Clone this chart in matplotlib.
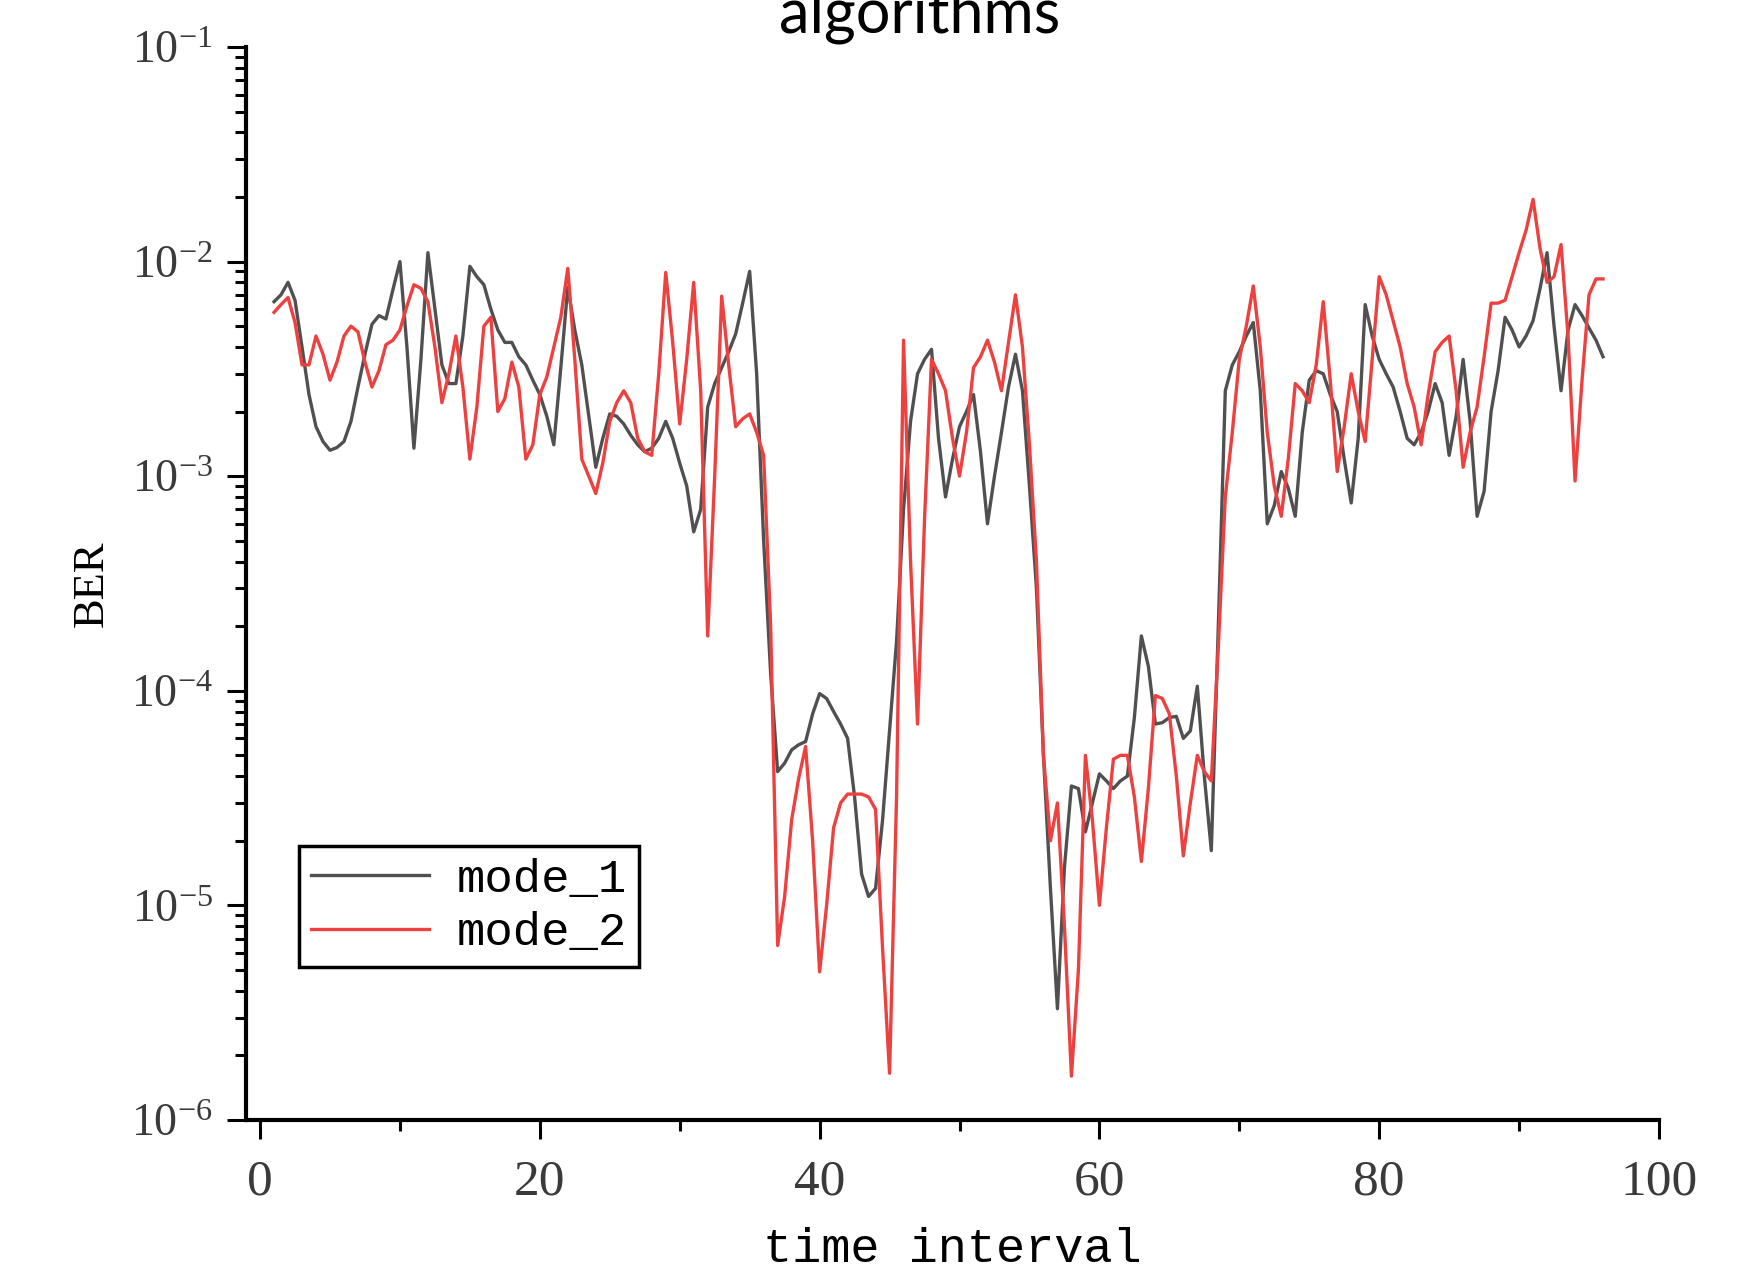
"""
plot.py
BER of the two modes over the time intervals, on a log scale.

Usage:
    python plot.py
"""

import numpy as np
import matplotlib
matplotlib.use("Agg")
import matplotlib.pyplot as plt
from matplotlib.ticker import MultipleLocator, LogLocator, NullFormatter

# time intervals go from 1 to 96 in half steps
t_start, t_stop, t_step = 1.0, 96.0, 0.5

mode_1 = [
    6.5e-3, 7.0e-3, 8.0e-3, 6.6e-3, 4.0e-3, 2.4e-3, 1.7e-3, 1.45e-3, 1.32e-3, 1.36e-3,   # 1.0 - 5.5
    1.45e-3, 1.8e-3, 2.6e-3, 3.7e-3, 5.1e-3, 5.6e-3, 5.4e-3, 7.4e-3, 1.0e-2, 4.0e-3,    # 6.0 - 10.5
    1.35e-3, 3.5e-3, 1.1e-2, 6.0e-3, 3.3e-3, 2.7e-3, 2.7e-3, 4.5e-3, 9.5e-3, 8.5e-3,    # 11.0 - 15.5
    7.8e-3, 6.0e-3, 4.8e-3, 4.2e-3, 4.2e-3, 3.6e-3, 3.3e-3, 2.8e-3, 2.4e-3, 1.9e-3,     # 16.0 - 20.5
    1.4e-3, 3.2e-3, 7.6e-3, 4.8e-3, 3.3e-3, 1.9e-3, 1.1e-3, 1.5e-3, 1.95e-3, 1.9e-3,    # 21.0 - 25.5
    1.75e-3, 1.55e-3, 1.4e-3, 1.3e-3, 1.35e-3, 1.5e-3, 1.8e-3, 1.5e-3, 1.15e-3, 9.0e-4, # 26.0 - 30.5
    5.5e-4, 7.0e-4, 2.1e-3, 2.7e-3, 3.2e-3, 3.8e-3, 4.6e-3, 6.4e-3, 9.0e-3, 3.0e-3,     # 31.0 - 35.5
    5.0e-4, 1.2e-4, 4.2e-5, 4.6e-5, 5.3e-5, 5.6e-5, 5.8e-5, 7.8e-5, 9.7e-5, 9.2e-5,     # 36.0 - 40.5
    8.0e-5, 7.0e-5, 6.0e-5, 3.2e-5, 1.4e-5, 1.1e-5, 1.2e-5, 2.5e-5, 6.5e-5, 1.7e-4,     # 41.0 - 45.5
    7.0e-4, 1.8e-3, 3.0e-3, 3.5e-3, 3.9e-3, 1.5e-3, 8.0e-4, 1.2e-3, 1.7e-3, 2.0e-3,     # 46.0 - 50.5
    2.4e-3, 1.3e-3, 6.0e-4, 1.0e-3, 1.6e-3, 2.6e-3, 3.7e-3, 2.5e-3, 9.0e-4, 3.0e-4,     # 51.0 - 55.5
    5.0e-5, 1.2e-5, 3.3e-6, 1.5e-5, 3.6e-5, 3.5e-5, 2.2e-5, 3.0e-5, 4.1e-5, 3.8e-5,     # 56.0 - 60.5
    3.5e-5, 3.8e-5, 4.0e-5, 7.5e-5, 1.8e-4, 1.3e-4, 7.0e-5, 7.1e-5, 7.5e-5, 7.6e-5,     # 61.0 - 65.5
    6.0e-5, 6.5e-5, 1.05e-4, 4.0e-5, 1.8e-5, 2.0e-4, 2.5e-3, 3.3e-3, 3.8e-3, 4.5e-3,    # 66.0 - 70.5
    5.2e-3, 2.5e-3, 6.0e-4, 7.3e-4, 1.05e-3, 8.8e-4, 6.5e-4, 1.6e-3, 2.8e-3, 3.1e-3,    # 71.0 - 75.5
    3.0e-3, 2.4e-3, 2.0e-3, 1.2e-3, 7.5e-4, 1.5e-3, 6.3e-3, 4.5e-3, 3.5e-3, 3.0e-3,     # 76.0 - 80.5
    2.6e-3, 2.0e-3, 1.5e-3, 1.4e-3, 1.6e-3, 2.0e-3, 2.7e-3, 2.2e-3, 1.25e-3, 1.9e-3,    # 81.0 - 85.5
    3.5e-3, 1.8e-3, 6.5e-4, 8.5e-4, 2.0e-3, 3.1e-3, 5.5e-3, 4.8e-3, 4.0e-3, 4.5e-3,     # 86.0 - 90.5
    5.3e-3, 7.5e-3, 1.1e-2, 5.0e-3, 2.5e-3, 4.8e-3, 6.3e-3, 5.6e-3, 4.9e-3, 4.3e-3,     # 91.0 - 95.5
    3.6e-3,                                                                             # 96.0
]

mode_2 = [
    5.8e-3, 6.3e-3, 6.8e-3, 5.2e-3, 3.3e-3, 3.3e-3, 4.5e-3, 3.7e-3, 2.8e-3, 3.4e-3,     # 1.0 - 5.5
    4.5e-3, 5.0e-3, 4.7e-3, 3.4e-3, 2.6e-3, 3.1e-3, 4.1e-3, 4.3e-3, 4.8e-3, 6.2e-3,     # 6.0 - 10.5
    7.8e-3, 7.5e-3, 6.5e-3, 4.0e-3, 2.2e-3, 3.0e-3, 4.5e-3, 2.6e-3, 1.2e-3, 2.1e-3,     # 11.0 - 15.5
    5.0e-3, 5.5e-3, 2.0e-3, 2.3e-3, 3.4e-3, 2.6e-3, 1.2e-3, 1.4e-3, 2.4e-3, 2.9e-3,     # 16.0 - 20.5
    4.0e-3, 5.5e-3, 9.3e-3, 3.5e-3, 1.2e-3, 1.0e-3, 8.3e-4, 1.15e-3, 1.8e-3, 2.2e-3,    # 21.0 - 25.5
    2.5e-3, 2.2e-3, 1.5e-3, 1.3e-3, 1.25e-3, 3.0e-3, 8.9e-3, 4.2e-3, 1.75e-3, 3.5e-3,   # 26.0 - 30.5
    8.0e-3, 2.5e-3, 1.8e-4, 1.0e-3, 6.9e-3, 3.3e-3, 1.7e-3, 1.85e-3, 1.95e-3, 1.6e-3,   # 31.0 - 35.5
    1.25e-3, 2.0e-4, 6.5e-6, 1.1e-5, 2.5e-5, 3.9e-5, 5.5e-5, 2.0e-5, 4.9e-6, 1.0e-5,    # 36.0 - 40.5
    2.3e-5, 3.0e-5, 3.3e-5, 3.3e-5, 3.3e-5, 3.2e-5, 2.8e-5, 6.3e-6, 1.65e-6, 3.2e-5,    # 41.0 - 45.5
    4.3e-3, 4.0e-4, 7.0e-5, 6.3e-4, 3.5e-3, 3.0e-3, 2.5e-3, 1.5e-3, 1.0e-3, 1.6e-3,     # 46.0 - 50.5
    3.2e-3, 3.6e-3, 4.3e-3, 3.4e-3, 2.5e-3, 4.2e-3, 7.0e-3, 4.0e-3, 1.4e-3, 4.0e-4,     # 51.0 - 55.5
    5.0e-5, 2.0e-5, 3.0e-5, 8.0e-6, 1.6e-6, 5.0e-6, 5.0e-5, 2.5e-5, 1.0e-5, 2.3e-5,     # 56.0 - 60.5
    4.8e-5, 5.0e-5, 5.0e-5, 3.2e-5, 1.6e-5, 3.5e-5, 9.5e-5, 9.2e-5, 7.8e-5, 4.0e-5,     # 61.0 - 65.5
    1.7e-5, 3.0e-5, 5.0e-5, 4.2e-5, 3.8e-5, 1.6e-4, 8.0e-4, 1.6e-3, 3.5e-3, 5.0e-3,     # 66.0 - 70.5
    7.7e-3, 4.0e-3, 1.6e-3, 9.0e-4, 6.5e-4, 1.2e-3, 2.7e-3, 2.5e-3, 2.2e-3, 3.3e-3,     # 71.0 - 75.5
    6.5e-3, 2.8e-3, 1.05e-3, 1.7e-3, 3.0e-3, 2.0e-3, 1.45e-3, 3.5e-3, 8.5e-3, 7.0e-3,   # 76.0 - 80.5
    5.3e-3, 4.0e-3, 2.7e-3, 2.1e-3, 1.4e-3, 2.4e-3, 3.8e-3, 4.2e-3, 4.5e-3, 2.5e-3,     # 81.0 - 85.5
    1.1e-3, 1.6e-3, 2.1e-3, 3.6e-3, 6.4e-3, 6.4e-3, 6.6e-3, 8.5e-3, 1.1e-2, 1.4e-2,     # 86.0 - 90.5
    1.95e-2, 1.15e-2, 8.0e-3, 8.5e-3, 1.2e-2, 4.5e-3, 9.5e-4, 2.8e-3, 7.0e-3, 8.3e-3,   # 91.0 - 95.5
    8.3e-3,                                                                             # 96.0
]

series_labels = ["mode_1", "mode_2"]
x_ticks = [0, 20, 40, 60, 80, 100]


def make_chart(out_path="out.png"):
    plt.rcParams["font.family"] = ["Liberation Serif", "DejaVu Serif"]
    plt.rcParams["mathtext.default"] = "regular"

    time = np.arange(t_start, t_stop + t_step / 2, t_step)
    assert len(time) == len(mode_1) == len(mode_2)

    fig = plt.figure(figsize=(17.6, 12.76), dpi=100)
    ax = fig.add_axes([0.1398, 0.1223, 0.8028, 0.8409])

    ax.plot(time, mode_1, color="#505050", lw=2.4, label=series_labels[0])
    ax.plot(time, mode_2, color="#ef4040", lw=2.4, label=series_labels[1])

    ax.set_yscale("log")
    ax.set_ylim(1e-6, 1e-1)
    ax.set_xlim(-1, 100)
    ax.set_xticks(x_ticks)
    ax.xaxis.set_minor_locator(MultipleLocator(10))
    ax.yaxis.set_minor_locator(LogLocator(base=10, subs=range(2, 10)))
    ax.yaxis.set_minor_formatter(NullFormatter())

    for side in ("top", "right"):
        ax.spines[side].set_visible(False)
    for side in ("left", "bottom"):
        ax.spines[side].set_linewidth(3)

    ax.tick_params(which="major", direction="out", length=14, width=2.2,
                   labelcolor="#3a3a3a")
    ax.tick_params(which="minor", direction="out", length=8, width=2.2)
    ax.tick_params(axis="y", which="major", labelsize=33, pad=10)
    ax.tick_params(axis="x", which="major", labelsize=37, pad=14)

    ax.set_ylabel("BER", fontsize=32)
    ax.yaxis.set_label_coords(-0.095, 0.5)
    ax.set_xlabel("time interval", fontsize=35, family="Liberation Mono")
    ax.xaxis.set_label_coords(0.5, -0.1)

    leg = ax.legend(loc="lower left", bbox_to_anchor=(0.0375, 0.1426),
                    borderaxespad=0, prop={"family": "Liberation Mono", "size": 34},
                    fancybox=False, edgecolor="black", framealpha=1,
                    handlelength=2.5, handletextpad=0.6, borderpad=0.25,
                    labelspacing=0.2)
    leg.get_frame().set_linewidth(2.5)

    # title sits at the very top edge and is clipped, like in the source figure
    fig.text(0.5227, 0.9745, "algorithms", ha="center", va="baseline",
             fontsize=44, family="Lato")

    fig.savefig(out_path, dpi=100)


if __name__ == "__main__":
    make_chart()
